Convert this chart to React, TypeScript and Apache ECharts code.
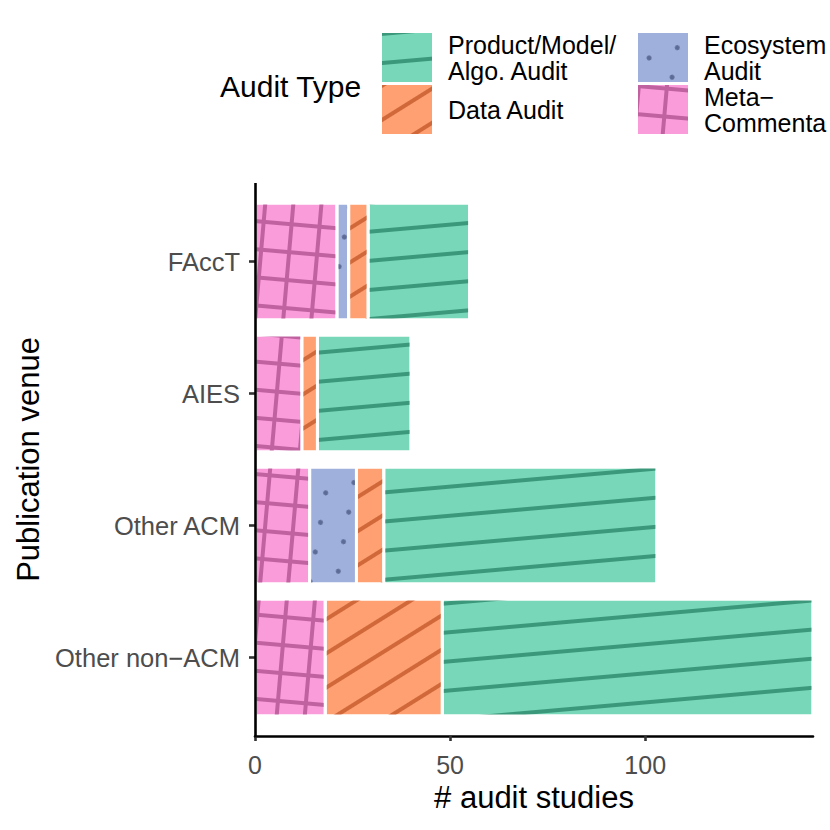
import React, { useEffect, useRef } from 'react';
import * as echarts from 'echarts';

// Data (categories listed bottom to top, as the category axis draws them)
const categories = ['Other non−ACM', 'Other ACM', 'AIES', 'FAccT'];
const metaValues = [18, 14, 12, 21];
const ecosystemValues = [0, 12, 0, 3];
const dataAuditValues = [30, 7, 4, 5];
const productValues = [95, 70, 24, 26];
const xTickValues = [0, 50, 100];
const xMax = 143;

const seriesNames = ['Meta-Commentary', 'Ecosystem Audit', 'Data Audit', 'Product/Model/Algo. Audit'];
const legendLabels: Record<string, string> = {
  'Product/Model/Algo. Audit': 'Product/Model/\nAlgo. Audit',
  'Data Audit': 'Data Audit',
  'Ecosystem Audit': 'Ecosystem\nAudit',
  'Meta-Commentary': 'Meta−\nCommenta',
};

const FONT = 'Liberation Sans';
const deg = Math.PI / 180;

export default function App() {
  const ref = useRef<HTMLDivElement>(null);

  useEffect(() => {
    if (!ref.current) return;
    const chart = echarts.init(ref.current, null, { renderer: 'svg' });

    const styles: Record<string, any> = {
      'Meta-Commentary': {
        color: '#f99cd9',
        decal: {
          symbol: 'rect', symbolSize: 1, color: '#c062a0',
          dashArrayX: [[1, 0], [4, 24]], dashArrayY: [4, 0, 24, 0],
          rotation: 5 * deg,
        },
      },
      'Ecosystem Audit': {
        color: '#9fb0dc',
        decal: {
          symbol: 'circle', symbolSize: 1, color: '#5c6b95',
          dashArrayX: [[5, 25], [0, 15, 5, 10]], dashArrayY: [5, 21],
          rotation: -20 * deg,
        },
      },
      'Data Audit': {
        color: '#fea072',
        decal: {
          symbol: 'rect', symbolSize: 1, color: '#d0683a',
          dashArrayX: [1, 0], dashArrayY: [4, 25],
          rotation: -32 * deg,
        },
      },
      'Product/Model/Algo. Audit': {
        color: '#79d7b9',
        decal: {
          symbol: 'rect', symbolSize: 1, color: '#3b987a',
          dashArrayX: [1, 0], dashArrayY: [4, 25],
          rotation: -5 * deg,
        },
      },
    };

    const valuesByName: Record<string, number[]> = {
      'Meta-Commentary': metaValues,
      'Ecosystem Audit': ecosystemValues,
      'Data Audit': dataAuditValues,
      'Product/Model/Algo. Audit': productValues,
    };

    const legendPos: Record<string, [number, number]> = {
      'Product/Model/Algo. Audit': [380, 31],
      'Data Audit': [380, 83],
      'Ecosystem Audit': [636, 31],
      'Meta-Commentary': [636, 83],
    };

    const legends = Object.keys(legendPos).map((name) => ({
      data: [name],
      left: legendPos[name][0],
      top: legendPos[name][1],
      orient: 'vertical',
      padding: 0,
      itemWidth: 52,
      itemHeight: 51,
      icon: 'rect',
      selectedMode: false,
      formatter: (n: string) => legendLabels[n],
      textStyle: {
        fontFamily: FONT, fontSize: 25, lineHeight: 26, color: '#000',
        padding: [0, 0, 0, 10],
      },
    }));

    chart.setOption({
      animation: false,
      backgroundColor: '#fff',
      textStyle: { fontFamily: FONT },
      legend: legends,
      grid: { left: 255, right: 17, top: 195.5, bottom: 106.5, containLabel: false },
      xAxis: {
        type: 'value',
        min: 0,
        max: xMax,
        interval: 50,
        offset: 12.5,
        name: '# audit studies',
        nameLocation: 'middle',
        nameGap: 45,
        nameTextStyle: { fontFamily: FONT, fontSize: 31, color: '#000' },
        splitLine: { show: false },
        axisLine: { show: true, lineStyle: { color: '#000', width: 2.6 } },
        axisTick: { show: true, length: 5, customValues: xTickValues, lineStyle: { color: '#333', width: 2.6 } },
        axisLabel: { fontFamily: FONT, fontSize: 25, color: '#4d4d4d', margin: 16, customValues: xTickValues },
      },
      yAxis: {
        type: 'category',
        data: categories,
        name: 'Publication venue',
        nameLocation: 'middle',
        nameRotate: 90,
        nameGap: 208,
        nameTextStyle: { fontFamily: FONT, fontSize: 31, color: '#000' },
        axisLine: { show: false },
        axisTick: { show: true, alignWithLabel: true, length: 6, lineStyle: { color: '#333', width: 2.6 } },
        axisLabel: { fontFamily: FONT, fontSize: 25.5, color: '#4d4d4d', margin: 15 },
        splitLine: { show: false },
      },
      graphic: [
        {
          type: 'line',
          shape: { x1: 255.5, y1: 183, x2: 255.5, y2: 737.3 },
          style: { stroke: '#000', lineWidth: 2.6 },
          z: 10,
        },
        {
          type: 'text',
          left: 220,
          top: 71,
          style: { text: 'Audit Type', fontFamily: FONT, fontSize: 30, fill: '#000' },
        },
      ],
      series: seriesNames.map((name) => ({
        name,
        type: 'bar',
        stack: 'total',
        barCategoryGap: '11.4%',
        data: valuesByName[name],
        itemStyle: {
          color: styles[name].color,
          decal: styles[name].decal,
          borderColor: '#fff',
          borderWidth: 1.5,
        },
      })),
    });

    return () => chart.dispose();
  }, []);

  return (
    <div
      ref={ref}
      style={{ position: 'fixed', left: 0, top: 0, width: 830, height: 830, background: '#fff' }}
    />
  );
}
